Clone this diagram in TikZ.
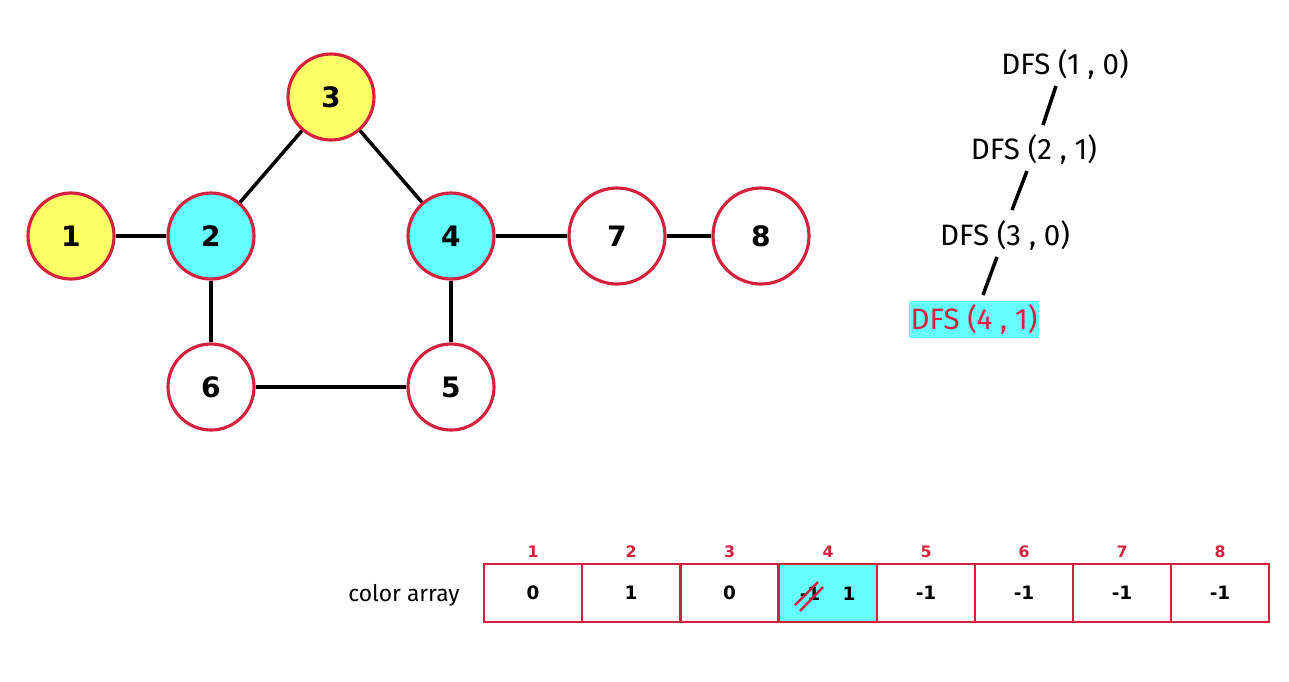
\documentclass[tikz,border=0pt]{standalone}
\usepackage{fontspec}
\setmainfont{Fira Sans}
\newfontfamily\vfont{DejaVu Sans}
\begin{document}
\begin{tikzpicture}[x=0.02cm,y=-0.02cm]
\definecolor{rd}{HTML}{D4213D}
\definecolor{yl}{HTML}{FFFF66}
\definecolor{cy}{HTML}{66FFFF}
\tikzset{
  vtx/.style={circle,draw=rd,line width=1.8pt,minimum size=#1*0.02cm,inner sep=0pt,font=\vfont\bfseries\fontsize{16}{18}\selectfont},
  vtx/.default=86,
  edge/.style={line width=2pt,black},
  cell/.style={draw=rd,line width=1.3pt,minimum width=1.96cm,minimum height=1.16cm,inner sep=0pt,font=\vfont\bfseries\fontsize{10.5}{12}\selectfont},
  idx/.style={text=rd,font=\vfont\bfseries\fontsize{9}{10}\selectfont,inner sep=0pt},
  call/.style={font=\fontsize{16.8}{20}\selectfont,inner sep=1pt},
  tline/.style={line width=2pt}
}
\useasboundingbox (0,0) rectangle (1289,681);
% vertices
\node[vtx,fill=yl] (n1) at (71,236) {1};
\node[vtx,fill=cy] (n2) at (211,236) {2};
\node[vtx,fill=yl] (n3) at (331,97) {3};
\node[vtx,fill=cy] (n4) at (451,236) {4};
\node[vtx,fill=white] (n6) at (211,387) {6};
\node[vtx,fill=white] (n5) at (451,387) {5};
\node[vtx=96,fill=white] (n7) at (617,236) {7};
\node[vtx=96,fill=white] (n8) at (761,236) {8};
\draw[edge] (n1) -- (n2);
\draw[edge] (n2) -- (n3);
\draw[edge] (n3) -- (n4);
\draw[edge] (n4) -- (n7);
\draw[edge] (n7) -- (n8);
\draw[edge] (n2) -- (n6);
\draw[edge] (n4) -- (n5);
\draw[edge] (n6) -- (n5);
% DFS calls
\node[call] (d1) at (1065,64) {DFS (1 , 0)};
\node[call] (d2) at (1034,149) {DFS (2 , 1)};
\node[call] (d3) at (1005,235) {DFS (3 , 0)};
\node[call,fill=cy,text=rd,minimum width=2.56cm,minimum height=0.74cm] (d4) at (974,319) {DFS (4 , 1)};
\coordinate (a1) at (1056,86); \coordinate (b1) at (1043,125);
\coordinate (a2) at (1027,171); \coordinate (b2) at (1012,210);
\coordinate (a3) at (997,257); \coordinate (b3) at (983,295);
\draw[tline] (a1) -- (b1);
\draw[tline] (a2) -- (b2);
\draw[tline] (a3) -- (b3);
% array
\node[font=\fontsize{13}{15}\selectfont] (lbl) at (404,595) {color array};
\node[cell] (c1) at (533,593) {0};
\node[cell] (c2) at (631,593) {1};
\node[cell] (c3) at (729.5,593) {0};
\node[cell,fill=cy] (c4) at (828,593) {};
\node[cell] (c5) at (926,593) {-1};
\node[cell] (c6) at (1024,593) {-1};
\node[cell] (c7) at (1122,593) {-1};
\node[cell] (c8) at (1220,593) {-1};
\node[cell,draw=none,minimum width=0pt,minimum height=0pt] (v4a) at (810,594) {-1};
\node[cell,draw=none,minimum width=0pt,minimum height=0pt] (v4b) at (849,594) {1};
\coordinate (s1a) at (795,605); \coordinate (s1b) at (818,582);
\coordinate (s2a) at (800,611); \coordinate (s2b) at (823,587);
\draw[rd,line width=1.4pt] (s1a) -- (s1b);
\draw[rd,line width=1.4pt] (s2a) -- (s2b);
\foreach \i/\x in {1/533,2/631,3/729.5,4/828,5/926,6/1024,7/1122,8/1220}{
  \node[idx] (i\i) at (\x,552) {\i};
}
\end{tikzpicture}
\end{document}
